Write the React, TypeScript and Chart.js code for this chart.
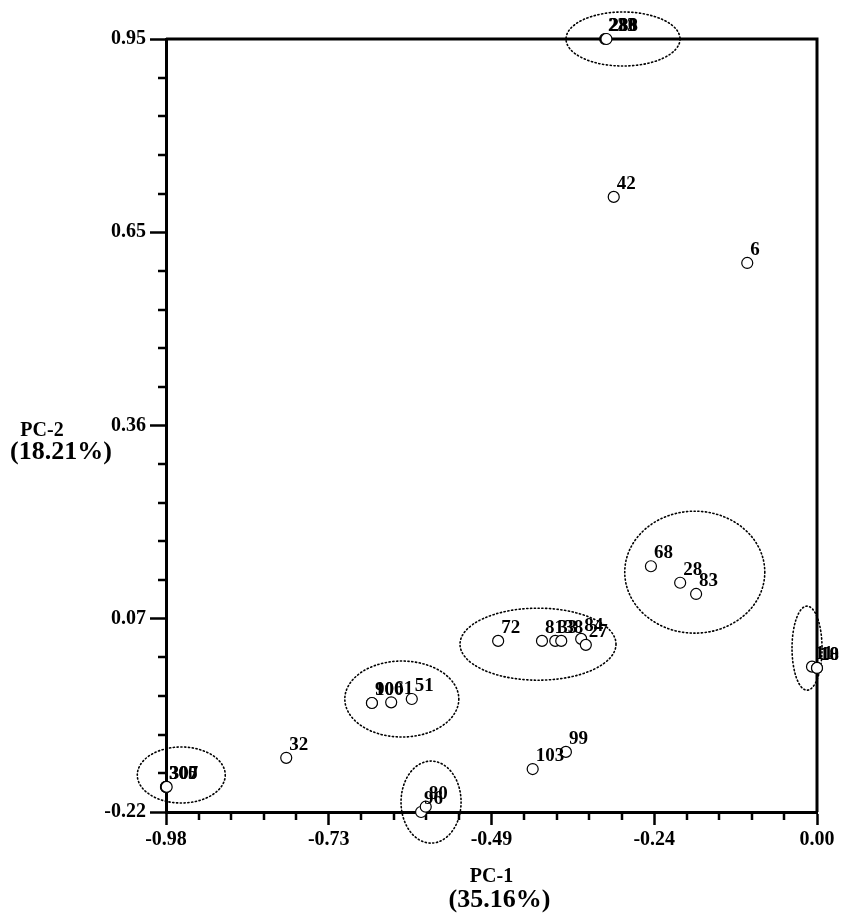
import React, { useEffect, useRef } from 'react';
import { Chart, registerables } from 'chart.js';
Chart.register(...registerables);

// sample labels and PCA scores
const sampleLabels = ['233', '280', '288', '42', '6', '68', '28', '83', '72', '81', '33', '38', '84', '27', '90', '100', '61', '51', '32', '300', '305', '307', '103', '99', '96', '80', '11', '18', '10'];
const pc1 = [-0.319, -0.318, -0.317, -0.306, -0.105, -0.250, -0.206, -0.182, -0.480, -0.414, -0.394, -0.385, -0.355, -0.348, -0.670, -0.670, -0.641, -0.610, -0.799, -0.980, -0.980, -0.979, -0.428, -0.378, -0.596, -0.589, -0.0075, 0.0, 0.0];
const pc2 = [0.950, 0.950, 0.950, 0.711, 0.611, 0.152, 0.127, 0.110, 0.039, 0.039, 0.039, 0.039, 0.042, 0.033, -0.055, -0.055, -0.054, -0.049, -0.138, -0.182, -0.182, -0.182, -0.155, -0.129, -0.220, -0.212, 0.000, -0.002, -0.002];

// axis ticks
const xMajorTicks = [-0.98, -0.735, -0.49, -0.245, 0.0];
const xTickLabels = ['-0.98', '-0.73', '-0.49', '-0.24', '0.00'];
const yMajorTicks = [-0.22, 0.0725, 0.365, 0.6575, 0.95];
const yTickLabels = ['-0.22', '0.07', '0.36', '0.65', '0.95'];

// cluster ellipses (center x, center y, radius x, radius y) in score units
const ellipseCx = [-0.292, -0.184, -0.420, -0.625, -0.957, -0.581, -0.015];
const ellipseCy = [0.950, 0.143, 0.034, -0.049, -0.164, -0.205, 0.028];
const ellipseRx = [0.0858, 0.1054, 0.1174, 0.0858, 0.0662, 0.0452, 0.0226];
const ellipseRy = [0.0409, 0.0923, 0.0545, 0.0575, 0.0424, 0.0621, 0.0636];

const xTitle = ['PC-1', '(35.16%)'];
const yTitle = ['PC-2', '(18.21%)'];

const SERIF = '"Liberation Serif", "Times New Roman", serif';

const decorPlugin = {
  id: 'decor',
  beforeDatasetsDraw(chart: any) {
    const { ctx, chartArea } = chart;
    const xs = chart.scales.x;
    const ys = chart.scales.y;
    ctx.save();
    // frame top & right
    ctx.strokeStyle = '#000';
    ctx.lineWidth = 3;
    ctx.beginPath();
    ctx.moveTo(chartArea.left, chartArea.top);
    ctx.lineTo(chartArea.right, chartArea.top);
    ctx.lineTo(chartArea.right, chartArea.bottom);
    ctx.stroke();
    // minor ticks
    ctx.lineWidth = 2.5;
    for (let i = 0; i < xMajorTicks.length - 1; i++) {
      const a = xMajorTicks[i], b = xMajorTicks[i + 1];
      for (let k = 1; k < 5; k++) {
        const px = Math.round(xs.getPixelForValue(a + ((b - a) * k) / 5));
        ctx.beginPath();
        ctx.moveTo(px, chartArea.bottom);
        ctx.lineTo(px, chartArea.bottom + 8);
        ctx.stroke();
      }
    }
    for (let i = 0; i < yMajorTicks.length - 1; i++) {
      const a = yMajorTicks[i], b = yMajorTicks[i + 1];
      for (let k = 1; k < 5; k++) {
        const py = Math.round(ys.getPixelForValue(a + ((b - a) * k) / 5));
        ctx.beginPath();
        ctx.moveTo(chartArea.left, py);
        ctx.lineTo(chartArea.left - 8, py);
        ctx.stroke();
      }
    }
    // dotted ellipses
    ctx.lineWidth = 1.6;
    ctx.setLineDash([1.2, 2.6]);
    ctx.lineCap = 'round';
    for (let i = 0; i < ellipseCx.length; i++) {
      const cx = xs.getPixelForValue(ellipseCx[i]);
      const cy = ys.getPixelForValue(ellipseCy[i]);
      const rx = Math.abs(xs.getPixelForValue(ellipseCx[i] + ellipseRx[i]) - cx);
      const ry = Math.abs(ys.getPixelForValue(ellipseCy[i] + ellipseRy[i]) - cy);
      ctx.beginPath();
      ctx.ellipse(cx, cy, rx, ry, 0, 0, Math.PI * 2);
      ctx.stroke();
    }
    ctx.restore();
  },
  afterDatasetsDraw(chart: any) {
    const { ctx, chartArea } = chart;
    const xs = chart.scales.x;
    const ys = chart.scales.y;
    ctx.save();
    ctx.fillStyle = '#000';
    ctx.font = `bold 19px ${SERIF}`;
    ctx.textAlign = 'left';
    ctx.textBaseline = 'alphabetic';
    for (let i = 0; i < sampleLabels.length; i++) {
      const px = xs.getPixelForValue(pc1[i]);
      const py = ys.getPixelForValue(pc2[i]);
      ctx.fillText(sampleLabels[i], px + 3, py - 8);
    }
    // axis titles
    ctx.textAlign = 'center';
    ctx.textBaseline = 'middle';
    const midX = (chartArea.left + chartArea.right) / 2;
    ctx.font = `bold 20px ${SERIF}`;
    ctx.fillText(xTitle[0], midX, 877);
    ctx.fillText(yTitle[0], 42, 431);
    ctx.font = `bold 26px ${SERIF}`;
    ctx.fillText(xTitle[1], midX + 8, 900);
    ctx.fillText(yTitle[1], 61, 452);
    ctx.restore();
  },
};

export default function App() {
  const ref = useRef<HTMLCanvasElement | null>(null);
  useEffect(() => {
    if (!ref.current) return;
    const points = pc1.map((x, i) => ({ x, y: pc2[i] }));
    const chart = new Chart(ref.current, {
      type: 'scatter',
      data: {
        datasets: [
          {
            data: points,
            pointRadius: 5.5,
            pointHoverRadius: 5.5,
            pointBackgroundColor: '#fff',
            pointBorderColor: '#000',
            pointBorderWidth: 1.2,
            clip: false as any,
          },
        ],
      },
      options: {
        responsive: false,
        animation: false,
        devicePixelRatio: 1,
        layout: { padding: { left: 0, top: 39, right: 30, bottom: 0 } },
        plugins: { legend: { display: false }, tooltip: { enabled: false } },
        scales: {
          x: {
            type: 'linear',
            min: -0.98,
            max: 0,
            afterBuildTicks: (s: any) => {
              s.ticks = xMajorTicks.map((v) => ({ value: v }));
            },
            afterFit: (s: any) => {
              s.height = 105;
            },
            ticks: {
              autoSkip: false,
              maxRotation: 0,
              padding: 3,
              color: '#000',
              font: { family: SERIF, size: 20, weight: 'bold' },
              callback: (_v: any, i: number) => xTickLabels[i],
            },
            grid: { drawOnChartArea: false, drawTicks: true, tickLength: 13, tickWidth: 2.5, tickColor: '#000' },
            border: { display: true, color: '#000', width: 3 },
          },
          y: {
            type: 'linear',
            min: -0.22,
            max: 0.95,
            afterBuildTicks: (s: any) => {
              s.ticks = yMajorTicks.map((v) => ({ value: v }));
            },
            afterFit: (s: any) => {
              s.width = 166;
            },
            ticks: {
              autoSkip: false,
              padding: 4,
              color: '#000',
              font: { family: SERIF, size: 20, weight: 'bold' },
              callback: (_v: any, i: number) => yTickLabels[i],
            },
            grid: { drawOnChartArea: false, drawTicks: true, tickLength: 16, tickWidth: 2.5, tickColor: '#000' },
            border: { display: true, color: '#000', width: 3 },
          },
        },
      },
      plugins: [decorPlugin],
    });
    return () => chart.destroy();
  }, []);
  return (
    <div style={{ position: 'absolute', left: 0, top: 0, width: 847, height: 917, background: '#fff' }}>
      <canvas ref={ref} width={847} height={917} style={{ width: 847, height: 917, display: 'block' }} />
    </div>
  );
}
